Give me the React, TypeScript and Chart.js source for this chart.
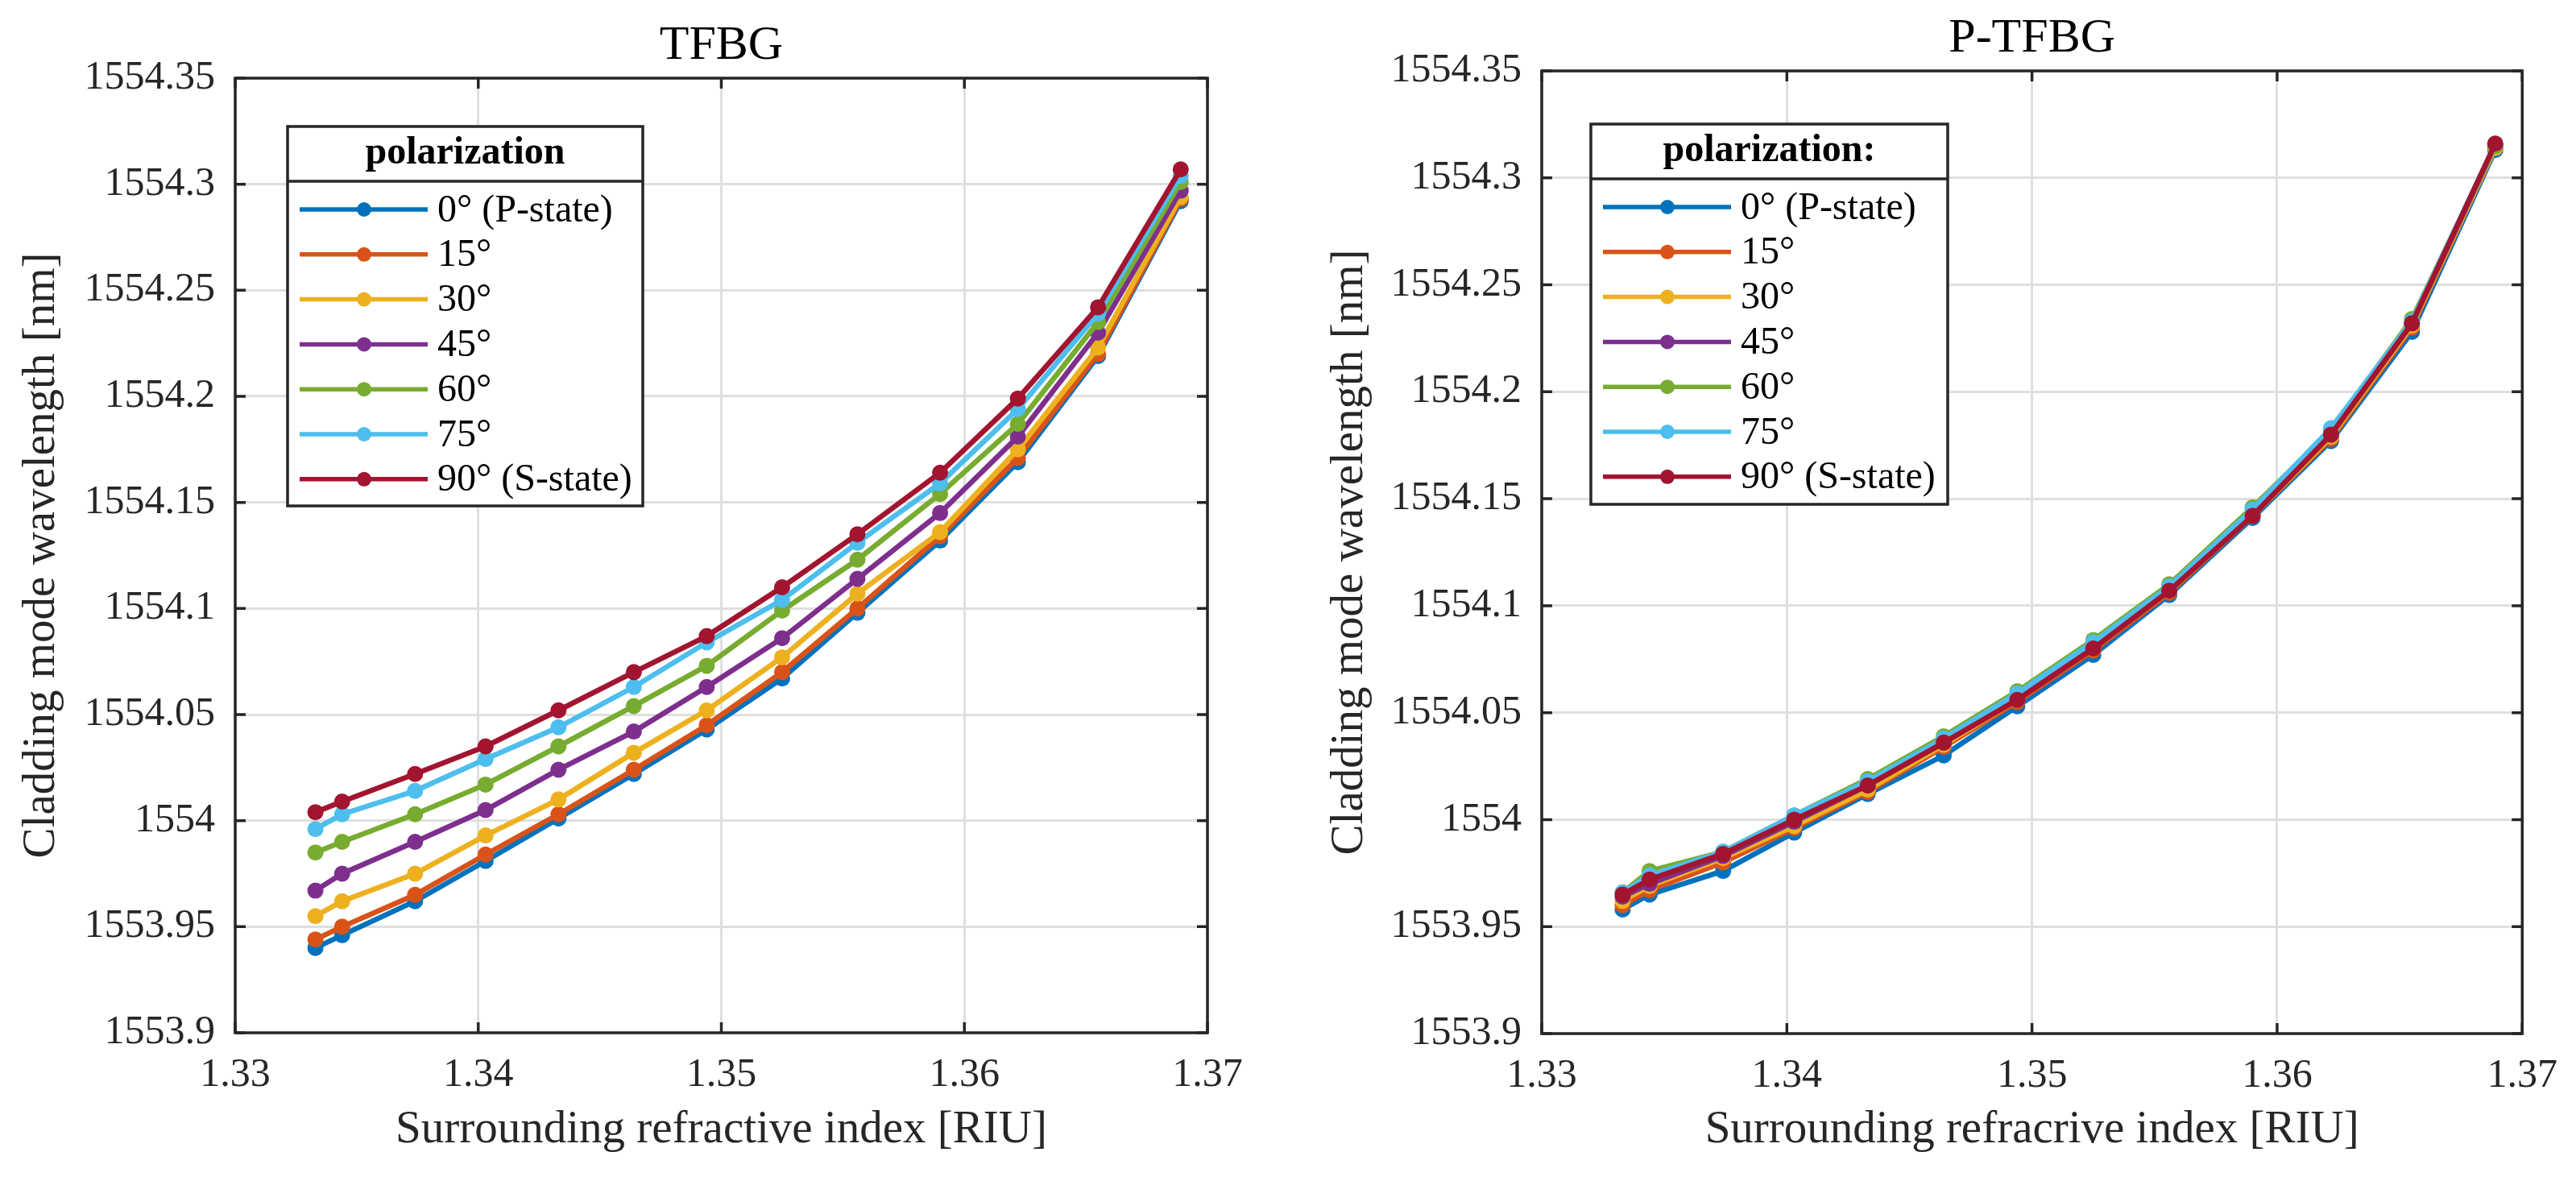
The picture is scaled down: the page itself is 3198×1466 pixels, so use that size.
import { useEffect, useRef } from "react"
import { Chart, registerables } from "chart.js"

Chart.register(...registerables)

const FONT = "'Liberation Serif', 'Times New Roman', serif"
Chart.defaults.font.family = FONT

// surrounding refractive index [RIU]
const riu = [1.3333, 1.3344, 1.3374, 1.3403, 1.3433, 1.3464, 1.3494, 1.3525, 1.3556, 1.359, 1.3622, 1.3655, 1.3689]

const polarizationLabels = ["0° (P-state)", "15°", "30°", "45°", "60°", "75°", "90° (S-state)"]
const lineColors = ["#0072BD", "#D95319", "#EDB120", "#7E2F8E", "#77AC30", "#4DBEEE", "#A2142F"]

const xTicks = [1.33, 1.34, 1.35, 1.36, 1.37]
const xTickLabels = ["1.33", "1.34", "1.35", "1.36", "1.37"]
const yTicks = [1553.9, 1553.95, 1554, 1554.05, 1554.1, 1554.15, 1554.2, 1554.25, 1554.3, 1554.35]
const yTickLabels = ["1553.9", "1553.95", "1554", "1554.05", "1554.1", "1554.15", "1554.2", "1554.25", "1554.3", "1554.35"]

// TFBG - cladding mode wavelength [nm]
const tfbg0 = [1553.94, 1553.946, 1553.962, 1553.981, 1554.001, 1554.022, 1554.043, 1554.067, 1554.098, 1554.132, 1554.169, 1554.219, 1554.292]
const tfbg15 = [1553.944, 1553.95, 1553.965, 1553.984, 1554.003, 1554.024, 1554.045, 1554.07, 1554.1, 1554.134, 1554.171, 1554.22, 1554.293]
const tfbg30 = [1553.955, 1553.962, 1553.975, 1553.993, 1554.01, 1554.032, 1554.052, 1554.077, 1554.107, 1554.136, 1554.175, 1554.223, 1554.294]
const tfbg45 = [1553.967, 1553.975, 1553.99, 1554.005, 1554.024, 1554.042, 1554.063, 1554.086, 1554.114, 1554.145, 1554.181, 1554.23, 1554.297]
const tfbg60 = [1553.985, 1553.99, 1554.003, 1554.017, 1554.035, 1554.054, 1554.073, 1554.099, 1554.123, 1554.154, 1554.187, 1554.235, 1554.301]
const tfbg75 = [1553.996, 1554.003, 1554.014, 1554.029, 1554.044, 1554.063, 1554.084, 1554.104, 1554.131, 1554.159, 1554.194, 1554.239, 1554.304]
const tfbg90 = [1554.004, 1554.009, 1554.022, 1554.035, 1554.052, 1554.07, 1554.087, 1554.11, 1554.135, 1554.164, 1554.199, 1554.242, 1554.307]

// P-TFBG - cladding mode wavelength [nm]
const ptfbg0 = [1553.958, 1553.965, 1553.976, 1553.994, 1554.012, 1554.03, 1554.053, 1554.077, 1554.105, 1554.141, 1554.177, 1554.228, 1554.313]
const ptfbg15 = [1553.96, 1553.967, 1553.98, 1553.996, 1554.013, 1554.034, 1554.055, 1554.079, 1554.106, 1554.142, 1554.178, 1554.23, 1554.314]
const ptfbg30 = [1553.962, 1553.969, 1553.982, 1553.997, 1554.014, 1554.035, 1554.056, 1554.08, 1554.107, 1554.142, 1554.179, 1554.231, 1554.314]
const ptfbg45 = [1553.964, 1553.97, 1553.983, 1553.999, 1554.016, 1554.036, 1554.057, 1554.081, 1554.108, 1554.143, 1554.18, 1554.232, 1554.315]
const ptfbg60 = [1553.966, 1553.976, 1553.985, 1554.002, 1554.019, 1554.039, 1554.06, 1554.084, 1554.11, 1554.146, 1554.182, 1554.234, 1554.315]
const ptfbg75 = [1553.966, 1553.974, 1553.985, 1554.002, 1554.018, 1554.038, 1554.059, 1554.083, 1554.109, 1554.145, 1554.183, 1554.233, 1554.316]
const ptfbg90 = [1553.965, 1553.972, 1553.984, 1554, 1554.016, 1554.036, 1554.056, 1554.08, 1554.107, 1554.142, 1554.18, 1554.232, 1554.316]

const tfbgSeries = [tfbg0, tfbg15, tfbg30, tfbg45, tfbg60, tfbg75, tfbg90]
const ptfbgSeries = [ptfbg0, ptfbg15, ptfbg30, ptfbg45, ptfbg60, ptfbg75, ptfbg90]

// draws the MATLAB-style box, inward ticks, title and boxed legend
const matlabAxes = {
  id: "matlabAxes",
  afterDraw(chart: any, _args: any, opts: any) {
    const { ctx, chartArea: a, scales } = chart
    ctx.save()

    ctx.strokeStyle = "#262626"
    ctx.lineWidth = 3.5
    ctx.strokeRect(a.left, a.top, a.right - a.left, a.bottom - a.top)

    const t = 13
    ctx.beginPath()
    xTicks.forEach((v) => {
      const px = scales.x.getPixelForValue(v)
      ctx.moveTo(px, a.bottom)
      ctx.lineTo(px, a.bottom - t)
      ctx.moveTo(px, a.top)
      ctx.lineTo(px, a.top + t)
    })
    yTicks.forEach((v) => {
      const py = scales.y.getPixelForValue(v)
      ctx.moveTo(a.left, py)
      ctx.lineTo(a.left + t, py)
      ctx.moveTo(a.right, py)
      ctx.lineTo(a.right - t, py)
    })
    ctx.stroke()

    // title
    ctx.fillStyle = "#000"
    ctx.font = `60px ${FONT}`
    ctx.textAlign = "center"
    ctx.textBaseline = "middle"
    ctx.fillText(opts.title, (a.left + a.right) / 2, a.top - 40)

    // legend
    const bx = a.left + opts.legendX
    const by = a.top + opts.legendY
    const bw = opts.legendW
    const bh = opts.legendH
    ctx.fillStyle = "#fff"
    ctx.fillRect(bx, by, bw, bh)
    ctx.strokeStyle = "#262626"
    ctx.lineWidth = 3.5
    ctx.strokeRect(bx, by, bw, bh)
    ctx.beginPath()
    ctx.moveTo(bx, by + 68)
    ctx.lineTo(bx + bw, by + 68)
    ctx.stroke()

    ctx.fillStyle = "#000"
    ctx.font = `bold 48px ${FONT}`
    ctx.fillText(opts.legendTitle, bx + bw / 2, by + 34)

    ctx.font = `48px ${FONT}`
    ctx.textAlign = "left"
    polarizationLabels.forEach((label, i) => {
      const ry = by + 103 + i * 55.8
      ctx.strokeStyle = lineColors[i]
      ctx.lineWidth = 5.5
      ctx.beginPath()
      ctx.moveTo(bx + 15, ry)
      ctx.lineTo(bx + 174, ry)
      ctx.stroke()
      ctx.fillStyle = lineColors[i]
      ctx.beginPath()
      ctx.arc(bx + 95, ry, 9, 0, Math.PI * 2)
      ctx.fill()
      ctx.fillStyle = "#000"
      ctx.fillText(label, bx + 186, ry + 2)
    })

    ctx.restore()
  },
}

type PanelProps = {
  left: number
  width: number
  area: { left: number; top: number; right: number; bottom: number }
  title: string
  xLabel: string
  legendTitle: string
  series: number[][]
  yTitleX: number
  legend: { x: number; y: number; w: number; h: number }
}

function PolarizationPanel(props: PanelProps) {
  const chartRef = useRef<HTMLCanvasElement>(null)
  const chartInstance = useRef<Chart | null>(null)
  const height = 1466

  useEffect(() => {
    if (!chartRef.current) return
    if (chartInstance.current) chartInstance.current.destroy()
    const ctx = chartRef.current.getContext("2d")
    if (!ctx) return

    const { area, series } = props
    const tickFont = { family: FONT, size: 50 }
    const labelFont = { family: FONT, size: 57 }

    chartInstance.current = new Chart(ctx, {
      type: "line",
      data: {
        datasets: series.map((vals, i) => ({
          label: polarizationLabels[i],
          data: riu.map((x, j) => ({ x, y: vals[j] })),
          borderColor: lineColors[i],
          backgroundColor: lineColors[i],
          pointBackgroundColor: lineColors[i],
          pointBorderColor: lineColors[i],
          borderWidth: 6.5,
          pointRadius: 10,
          pointBorderWidth: 0,
          tension: 0,
          order: series.length - 1 - i,
        })),
      },
      options: {
        responsive: false,
        animation: false,
        devicePixelRatio: 1,
        layout: {
          padding: { left: 0, top: area.top, right: props.width - area.right, bottom: 0 },
        },
        plugins: {
          legend: { display: false },
          tooltip: { enabled: false },
          matlabAxes: {
            title: props.title,
            legendTitle: props.legendTitle,
            legendX: props.legend.x,
            legendY: props.legend.y,
            legendW: props.legend.w,
            legendH: props.legend.h,
          },
        } as any,
        scales: {
          x: {
            type: "linear",
            min: 1.33,
            max: 1.37,
            afterBuildTicks: (scale: any) => {
              scale.ticks = xTicks.map((value) => ({ value }))
            },
            afterFit: (scale: any) => {
              scale.height = height - area.bottom
            },
            ticks: {
              padding: 23,
              color: "#262626",
              font: tickFont,
              maxRotation: 0,
              callback: (_v: any, i: number) => xTickLabels[i],
            },
            grid: { color: "#dfdfdf", lineWidth: 3, drawTicks: false },
            border: { display: false },
            title: {
              display: true,
              text: props.xLabel,
              color: "#262626",
              font: labelFont,
              padding: { top: 0, bottom: 63 - 34.2 },
            },
          },
          y: {
            type: "linear",
            min: 1553.9,
            max: 1554.35,
            afterBuildTicks: (scale: any) => {
              scale.ticks = yTicks.map((value) => ({ value }))
            },
            afterFit: (scale: any) => {
              scale.width = area.left
            },
            ticks: {
              padding: 25,
              color: "#262626",
              font: tickFont,
              callback: (_v: any, i: number) => yTickLabels[i],
            },
            grid: { color: "#dfdfdf", lineWidth: 3, drawTicks: false },
            border: { display: false },
            title: {
              display: true,
              text: "Cladding mode wavelength [nm]",
              color: "#262626",
              font: labelFont,
              padding: { top: props.yTitleX - 34.2, bottom: 0 },
            },
          },
        },
      },
      plugins: [matlabAxes],
    } as any)

    return () => {
      if (chartInstance.current) {
        chartInstance.current.destroy()
        chartInstance.current = null
      }
    }
  }, [])

  return (
    <canvas
      ref={chartRef}
      width={props.width}
      height={height}
      style={{ position: "absolute", left: props.left, top: 0, width: props.width, height }}
    />
  )
}

export default function App() {
  return (
    <div style={{ position: "fixed", left: 0, top: 0, width: 3198, height: 1466, background: "#fff", overflow: "hidden" }}>
      <PolarizationPanel
        left={0}
        width={1600}
        area={{ left: 292, top: 97, right: 1499, bottom: 1282 }}
        title="TFBG"
        xLabel="Surrounding refractive index [RIU]"
        legendTitle="polarization"
        series={tfbgSeries}
        yTitleX={52}
        legend={{ x: 65, y: 60, w: 441, h: 471 }}
      />
      <PolarizationPanel
        left={1600}
        width={1598}
        area={{ left: 314, top: 88, right: 1536, bottom: 1283 }}
        title="P-TFBG"
        xLabel="Surrounding refracrive index [RIU]"
        legendTitle="polarization:"
        series={ptfbgSeries}
        yTitleX={76}
        legend={{ x: 61, y: 66, w: 443, h: 472 }}
      />
    </div>
  )
}
